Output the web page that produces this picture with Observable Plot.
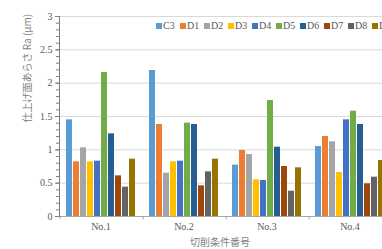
<!DOCTYPE html>
<html>
<head>
<meta charset="utf-8">
<script src="https://cdn.jsdelivr.net/npm/d3@7"></script>
<script src="https://cdn.jsdelivr.net/npm/@observablehq/plot@0.6"></script>
<style>
  html, body { margin: 0; padding: 0; background: #fff; overflow: hidden; width: 382px; height: 249px; }
  #wrap { position: relative; width: 392px; height: 249px; }
  #legend { position: absolute; top: 20px; left: 156px; display: flex; white-space: nowrap;
    font-family: "Liberation Serif", serif; font-size: 10px; color: #595959; }
  #legend .item { width: 24px; display: flex; align-items: center; }
  #legend .sw { width: 6px; height: 6px; margin-right: 1px; }
  #xlabel { position: absolute; top: 234px; left: 180px; width: 80px; text-align: center;
    font-family: "Noto Sans CJK JP", sans-serif; font-size: 10px; color: #7f7f7f; }
</style>
</head>
<body>
<div id="wrap"><div id="legend"></div><div id="xlabel"></div></div>
<script>
const categories = ["No.1", "No.2", "No.3", "No.4"];
const seriesNames = ["C3", "D1", "D2", "D3", "D4", "D5", "D6", "D7", "D8", "D9"];
const colors = ["#5b9bd5", "#ed7d31", "#a5a5a5", "#ffc000", "#4472c4", "#70ad47", "#255e91", "#9e480e", "#636363", "#997300"];
const valuesNo1 = [1.45, 0.82, 1.03, 0.82, 0.83, 2.16, 1.24, 0.61, 0.44, 0.86];
const valuesNo2 = [2.19, 1.38, 0.65, 0.82, 0.83, 1.40, 1.38, 0.46, 0.67, 0.86];
const valuesNo3 = [0.77, 0.99, 0.93, 0.55, 0.54, 1.74, 1.04, 0.75, 0.38, 0.73];
const valuesNo4 = [1.05, 1.20, 1.12, 0.66, 1.45, 1.58, 1.38, 0.49, 0.59, 0.84];
const yTicks = [0, 0.5, 1, 1.5, 2, 2.5, 3];
const yLabel = "仕上げ面あらさ Ra (μm)";
const xLabel = "切削条件番号";

const allValues = [valuesNo1, valuesNo2, valuesNo3, valuesNo4];
const data = [];
categories.forEach((c, i) => seriesNames.forEach((s, j) => data.push({cat: c, series: s, value: allValues[i][j]})));

const labelFont = "'Liberation Serif', serif";
const cjkFont = "'Noto Sans CJK JP', sans-serif";
const chart = Plot.plot({
  width: 392,
  height: 249,
  marginLeft: 59,
  marginRight: 1,
  marginTop: 16,
  marginBottom: 33,
  style: {fontFamily: labelFont, fontSize: "10px", color: "#595959", background: "#fff"},
  fx: {domain: categories, padding: 0, label: null, axis: null},
  x: {domain: seriesNames, paddingInner: 0.12, paddingOuter: 0.84, axis: null},
  y: {domain: [0, 3], axis: null},
  color: {domain: seriesNames, range: colors},
  marks: [
    Plot.gridY(yTicks.slice(1), {stroke: "#d9d9d9", strokeOpacity: 1}),
    Plot.barY(data, {fx: "cat", x: "series", y: "value", fill: "series"}),
    Plot.ruleY([0], {stroke: "#a6a6a6"}),
    Plot.ruleX(["C3"], {y1: 0, y2: -0.05, stroke: "#a6a6a6", dx: -9.3}),
    Plot.axisY(d3.range(0, 3.001, 0.1), {tickSize: 3, tickFormat: () => "", stroke: "#7f7f7f", label: null}),
    Plot.axisY(yTicks, {tickSize: 4, tickPadding: 3, tickFormat: d => String(d), stroke: "#7f7f7f", fill: "#595959",
      label: null, fontFamily: labelFont, fontSize: 10}),
    Plot.frame({anchor: "left", facetAnchor: "left", stroke: "#7f7f7f"}),
    Plot.text([yLabel], {text: d => d, frameAnchor: "left", facetAnchor: "left", dx: -32, dy: 6, rotate: -90,
      fontFamily: cjkFont, fontSize: 10, fill: "#7f7f7f"}),
    Plot.text(categories, {fx: d => d, text: d => d, frameAnchor: "bottom", dy: 13,
      fontFamily: labelFont, fontSize: 10, fill: "#595959"})
  ]
});
document.getElementById("wrap").appendChild(chart);
document.getElementById("xlabel").textContent = xLabel;

const legend = d3.select("#legend");
seriesNames.forEach((s, i) => {
  const it = legend.append("div").attr("class", "item");
  it.append("div").attr("class", "sw").style("background", colors[i]);
  it.append("span").text(s);
});
</script>
</body>
</html>
